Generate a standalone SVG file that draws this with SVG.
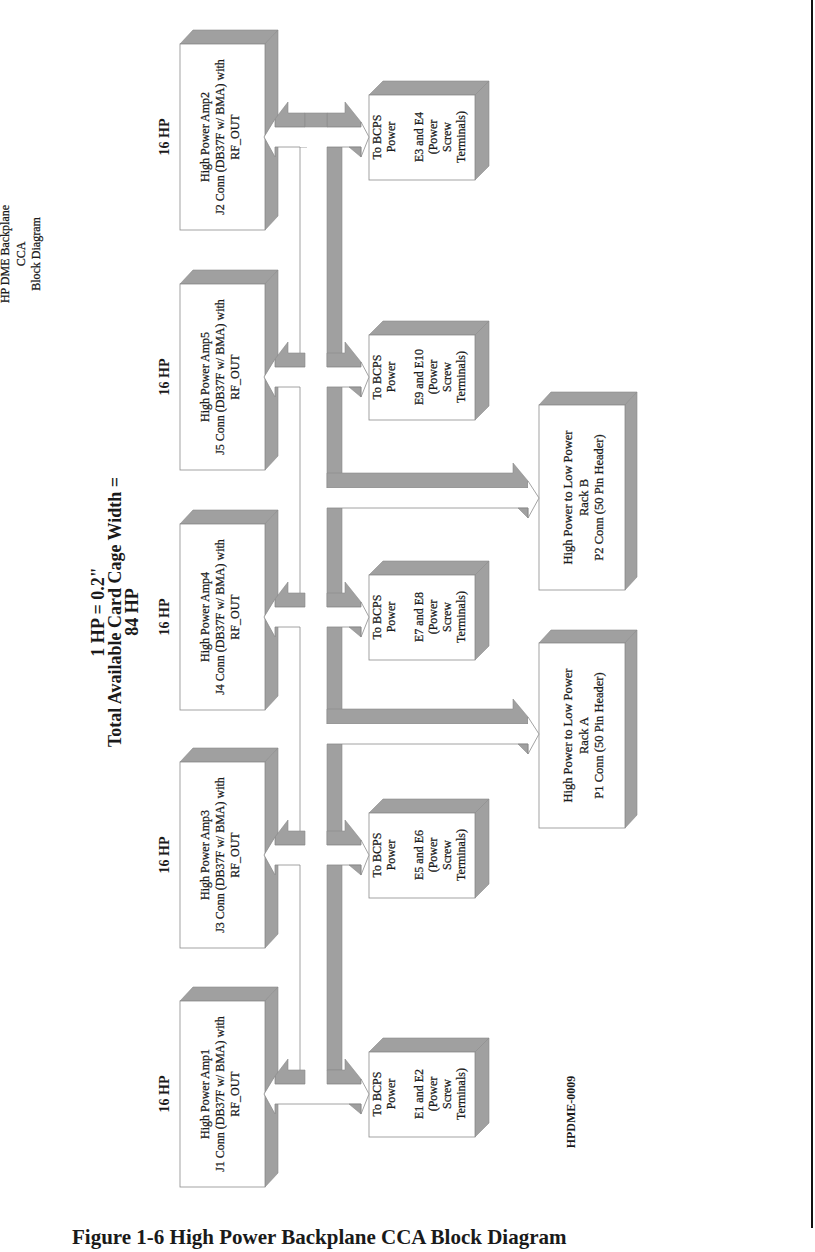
<svg xmlns="http://www.w3.org/2000/svg" width="815" height="1252" viewBox="0 0 815 1252">
<style>
.face{fill:#fff;stroke:#8c8c8c;stroke-width:0.8}
.side{fill:#a0a0a0;stroke:#8a8a8a;stroke-width:0.6}
.ln{fill:none;stroke:#8c8c8c;stroke-width:0.8}
.wf{fill:#fff}
text{font-family:"Liberation Serif","Times New Roman",serif;fill:#1a1a1a}
.lbl{font-size:12px;text-anchor:middle;stroke:#1a1a1a;stroke-width:0.25}
.rlbl{font-size:12.5px;text-anchor:middle;stroke:#1a1a1a;stroke-width:0.25}
.hp{font-size:14px;font-weight:bold;text-anchor:middle}
.hdr{font-size:18px;font-weight:bold;text-anchor:middle}
</style>
<defs>
<g id="dbl">
<polygon class="side" points="275,-10 275,-18 288,-35 288,-24 305,-24 305,-10"/>
<polygon class="side" points="327,-10 327,-24 345,-24 345,-35 361,-15 361,-10"/>
<polygon class="wf" points="264,0 275,-18 275,-10 361,-10 361,-15 369,0 361,20 361,10 275,10 275,20"/>
<polygon class="side" points="349,10 361,10 361,20"/>
<path class="ln" d="M305,-10H275V-18L264,0L275,20V10H300M327,-10H361V-15L369,0L361,20V10H327"/>
</g>
<g id="rk">
<polygon class="side" points="327,-10 327,-25 513,-25 513,-35 528,-17 528,-10"/>
<polygon class="wf" points="326,-10 528,-10 528,-17 539,0 528,20 528,10 326,10"/>
<polygon class="side" points="518,10 528,10 528,20"/>
<path class="ln" d="M327,10H528V20L539,0L528,-17"/>
</g>
</defs>
<rect width="815" height="1252" fill="#fff"/>
<line x1="812" y1="0" x2="812" y2="1228" stroke="#111" stroke-width="2"/>

<g id="title">
<text class="lbl" transform="translate(9,254) rotate(-90)"><tspan x="0" y="0">HP DME Backplane</tspan><tspan x="0" y="15.5">CCA</tspan><tspan x="0" y="31">Block Diagram</tspan></text>
</g>
<g id="header">
<text class="hdr" transform="translate(104,612) rotate(-90)"><tspan x="0" y="0">1 HP = 0.2"</tspan><tspan x="0" y="17">Total Available Card Cage Width =</tspan><tspan x="0" y="34">84 HP</tspan></text>
</g>

<g id="amp2">
<polygon class="side" points="180,44 193,30 278,30 265,44"/>
<polygon class="side" points="265,44 278,30 278,216 265,230"/>
<rect class="face" x="180" y="44" width="85" height="186"/>
<text class="lbl" transform="translate(209,137) rotate(-90)"><tspan x="0" y="0">High Power Amp2</tspan><tspan x="0" y="15">J2 Conn (DB37F w/ BMA) with</tspan><tspan x="0" y="30">RF_OUT</tspan></text>
<text class="hp" transform="translate(169,137) rotate(-90)">16 HP</text>
</g>
<g id="amp5">
<polygon class="side" points="180,284 193,270 278,270 265,284"/>
<polygon class="side" points="265,284 278,270 278,456 265,470"/>
<rect class="face" x="180" y="284" width="85" height="186"/>
<text class="lbl" transform="translate(209,377) rotate(-90)"><tspan x="0" y="0">High Power Amp5</tspan><tspan x="0" y="15">J5 Conn (DB37F w/ BMA) with</tspan><tspan x="0" y="30">RF_OUT</tspan></text>
<text class="hp" transform="translate(169,377) rotate(-90)">16 HP</text>
</g>
<g id="amp4">
<polygon class="side" points="180,524 193,510 278,510 265,524"/>
<polygon class="side" points="265,524 278,510 278,696 265,710"/>
<rect class="face" x="180" y="524" width="85" height="186"/>
<text class="lbl" transform="translate(209,617) rotate(-90)"><tspan x="0" y="0">High Power Amp4</tspan><tspan x="0" y="15">J4 Conn (DB37F w/ BMA) with</tspan><tspan x="0" y="30">RF_OUT</tspan></text>
<text class="hp" transform="translate(169,617) rotate(-90)">16 HP</text>
</g>
<g id="amp3">
<polygon class="side" points="180,762 193,748 278,748 265,762"/>
<polygon class="side" points="265,762 278,748 278,934 265,948"/>
<rect class="face" x="180" y="762" width="85" height="186"/>
<text class="lbl" transform="translate(209,855) rotate(-90)"><tspan x="0" y="0">High Power Amp3</tspan><tspan x="0" y="15">J3 Conn (DB37F w/ BMA) with</tspan><tspan x="0" y="30">RF_OUT</tspan></text>
<text class="hp" transform="translate(169,855) rotate(-90)">16 HP</text>
</g>
<g id="amp1">
<polygon class="side" points="180,1001 193,987 278,987 265,1001"/>
<polygon class="side" points="265,1001 278,987 278,1173 265,1187"/>
<rect class="face" x="180" y="1001" width="85" height="186"/>
<text class="lbl" transform="translate(209,1094) rotate(-90)"><tspan x="0" y="0">High Power Amp1</tspan><tspan x="0" y="15">J1 Conn (DB37F w/ BMA) with</tspan><tspan x="0" y="30">RF_OUT</tspan></text>
<text class="hp" transform="translate(169,1094) rotate(-90)">16 HP</text>
</g>

<g id="pwr_e3e4">
<polygon class="side" points="369,95 383,81 489,81 475,95"/>
<polygon class="side" points="475,95 489,81 489,166 475,180"/>
<rect class="face" x="369" y="95" width="106" height="85"/>
<text class="lbl" transform="translate(381,137) rotate(-90)"><tspan x="0" y="0">To BCPS</tspan><tspan x="0" y="14">Power</tspan><tspan x="0" y="42">E3 and E4</tspan><tspan x="0" y="56">(Power</tspan><tspan x="0" y="70">Screw</tspan><tspan x="0" y="84">Terminals)</tspan></text>
</g>
<g id="pwr_e9e10">
<polygon class="side" points="369,335 383,321 489,321 475,335"/>
<polygon class="side" points="475,335 489,321 489,406 475,420"/>
<rect class="face" x="369" y="335" width="106" height="85"/>
<text class="lbl" transform="translate(381,377) rotate(-90)"><tspan x="0" y="0">To BCPS</tspan><tspan x="0" y="14">Power</tspan><tspan x="0" y="42">E9 and E10</tspan><tspan x="0" y="56">(Power</tspan><tspan x="0" y="70">Screw</tspan><tspan x="0" y="84">Terminals)</tspan></text>
</g>
<g id="pwr_e7e8">
<polygon class="side" points="369,575 383,561 489,561 475,575"/>
<polygon class="side" points="475,575 489,561 489,646 475,660"/>
<rect class="face" x="369" y="575" width="106" height="85"/>
<text class="lbl" transform="translate(381,617) rotate(-90)"><tspan x="0" y="0">To BCPS</tspan><tspan x="0" y="14">Power</tspan><tspan x="0" y="42">E7 and E8</tspan><tspan x="0" y="56">(Power</tspan><tspan x="0" y="70">Screw</tspan><tspan x="0" y="84">Terminals)</tspan></text>
</g>
<g id="pwr_e5e6">
<polygon class="side" points="369,813 383,799 489,799 475,813"/>
<polygon class="side" points="475,813 489,799 489,884 475,898"/>
<rect class="face" x="369" y="813" width="106" height="85"/>
<text class="lbl" transform="translate(381,855) rotate(-90)"><tspan x="0" y="0">To BCPS</tspan><tspan x="0" y="14">Power</tspan><tspan x="0" y="42">E5 and E6</tspan><tspan x="0" y="56">(Power</tspan><tspan x="0" y="70">Screw</tspan><tspan x="0" y="84">Terminals)</tspan></text>
</g>
<g id="pwr_e1e2">
<polygon class="side" points="369,1052 383,1038 489,1038 475,1052"/>
<polygon class="side" points="475,1052 489,1038 489,1123 475,1137"/>
<rect class="face" x="369" y="1052" width="106" height="85"/>
<text class="lbl" transform="translate(381,1094) rotate(-90)"><tspan x="0" y="0">To BCPS</tspan><tspan x="0" y="14">Power</tspan><tspan x="0" y="42">E1 and E2</tspan><tspan x="0" y="56">(Power</tspan><tspan x="0" y="70">Screw</tspan><tspan x="0" y="84">Terminals)</tspan></text>
</g>

<g id="rackB">
<polygon class="side" points="539,405 551,392 637,392 625,405"/>
<polygon class="side" points="625,405 637,392 637,577 625,590"/>
<rect class="face" x="539" y="405" width="86" height="185"/>
<text class="rlbl" transform="translate(572,497.5) rotate(-90)"><tspan x="0" y="0">High Power to Low Power</tspan><tspan x="0" y="15.5">Rack B</tspan><tspan x="0" y="31">P2 Conn (50 Pin Header)</tspan></text>
</g>
<g id="rackA">
<polygon class="side" points="539,643 551,630 637,630 625,643"/>
<polygon class="side" points="625,643 637,630 637,815 625,828"/>
<rect class="face" x="539" y="643" width="86" height="185"/>
<text class="rlbl" transform="translate(572,735.5) rotate(-90)"><tspan x="0" y="0">High Power to Low Power</tspan><tspan x="0" y="15.5">Rack A</tspan><tspan x="0" y="31">P1 Conn (50 Pin Header)</tspan></text>
</g>

<g id="connectors">
<rect class="side" x="327" y="147" width="15" height="923"/>
<path class="ln" d="M307,147H300V1070"/>
<use href="#rk" y="498"/>
<use href="#rk" y="734"/>
<use href="#dbl" y="137"/>
<rect class="side" x="305" y="113" width="22" height="14"/>
<use href="#dbl" y="377"/>
<use href="#dbl" y="617"/>
<use href="#dbl" y="855"/>
<use href="#dbl" y="1094"/>
<path class="ln" d="M300,1104H327"/>
</g>

<g id="code">
<text transform="translate(575,1112) rotate(-90)" font-size="12" font-weight="bold" text-anchor="middle">HPDME-0009</text>
</g>
<g id="caption">
<text x="72" y="1244" font-size="21" font-weight="bold">Figure 1-6 High Power Backplane CCA Block Diagram</text>
</g>
</svg>
